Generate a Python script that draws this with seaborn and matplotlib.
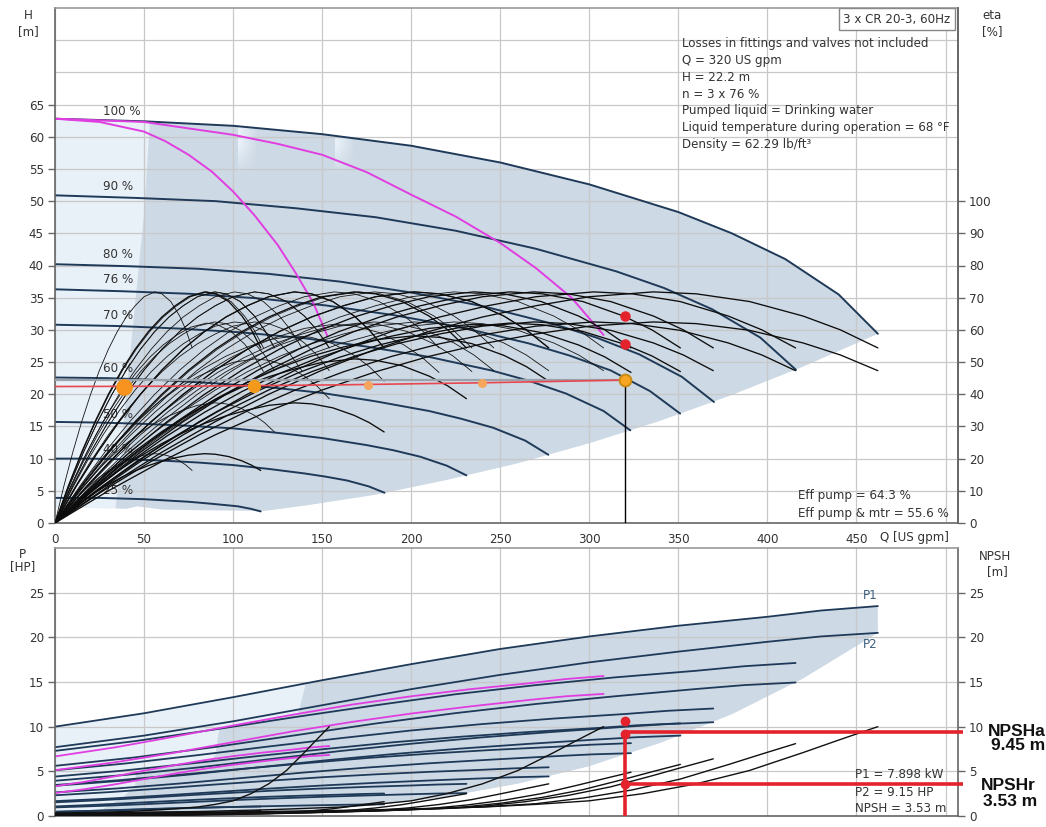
import numpy as np
import pandas as pd
import matplotlib
matplotlib.use("Agg")
import matplotlib.pyplot as plt
from matplotlib.patches import Polygon
from matplotlib.colors import to_rgb
import seaborn as sns

sns.set_theme(style="white")
plt.rcParams["font.family"] = ["DejaVu Sans"]

FIG_W, FIG_H = 1046, 827

# ---------------- pump data: 3 x CR 20-3, 60 Hz ----------------
speed_pct = [100, 90, 80, 76, 70, 60, 50, 40, 25]
speed_label_head = [63.9, 52.3, 41.7, 37.9, 32.2, 24.0, 16.9, 11.4, 5.0]
pump_counts = [1, 2, 3]
single_pump_speeds = [100, 90, 80, 76]

# QH curves, three pumps running, one row per speed
qh_flow = [
    [0, 50, 100, 150, 200, 250, 300, 350, 380, 410, 440, 462],
    [0, 45, 90, 135, 180, 225, 270, 315, 342, 369, 396, 416],
    [0, 40, 80, 120, 160, 200, 240, 280, 304, 328, 352, 370],
    [0, 38, 76, 114, 152, 190, 228, 266, 289, 312, 334, 351],
    [0, 35, 70, 105, 140, 175, 210, 245, 266, 287, 308, 323],
    [0, 30, 60, 90, 120, 150, 180, 210, 228, 246, 264, 277],
    [0, 25, 50, 75, 100, 125, 150, 175, 190, 205, 220, 231],
    [0, 20, 40, 60, 80, 100, 120, 140, 152, 164, 176, 185],
    [0, 12.5, 25, 37.5, 50, 62.5, 75, 87.5, 95, 102.5, 110, 115.5],
]
qh_head = [
    [62.8, 62.4, 61.7, 60.4, 58.6, 56.0, 52.6, 48.3, 45.0, 41.0, 35.5, 29.4],
    [50.9, 50.5, 50.0, 48.9, 47.5, 45.4, 42.6, 39.1, 36.5, 33.2, 28.8, 23.8],
    [40.2, 39.9, 39.5, 38.7, 37.5, 35.8, 33.7, 30.9, 28.8, 26.2, 22.7, 18.8],
    [36.3, 36.0, 35.6, 34.9, 33.8, 32.3, 30.4, 27.9, 26.0, 23.7, 20.5, 17.0],
    [30.8, 30.6, 30.2, 29.6, 28.7, 27.4, 25.8, 23.7, 22.1, 20.1, 17.4, 14.4],
    [22.6, 22.5, 22.2, 21.7, 21.1, 20.2, 18.9, 17.4, 16.2, 14.8, 12.8, 10.6],
    [15.7, 15.6, 15.4, 15.1, 14.7, 14.0, 13.2, 12.1, 11.3, 10.3, 8.9, 7.4],
    [10.0, 10.0, 9.9, 9.7, 9.4, 9.0, 8.4, 7.7, 7.2, 6.6, 5.7, 4.7],
    [3.9, 3.9, 3.9, 3.8, 3.7, 3.5, 3.3, 3.0, 2.8, 2.6, 2.2, 1.8],
]

# full-speed QH with one and with two pumps running
one_pump_q = [0, 25, 50, 62, 75, 88, 100, 112, 125, 135, 145, 153]
one_pump_h = [62.8, 62.3, 60.8, 59.3, 57.2, 54.6, 51.5, 47.8, 43.2, 38.9, 34.2, 29.0]
two_pump_q = [0, 50, 100, 125, 150, 175, 200, 225, 250, 270, 290, 308]
two_pump_h = [62.8, 62.3, 60.3, 58.9, 57.2, 54.5, 51.0, 47.6, 43.5, 39.6, 35.0, 29.2]

# operating range outline (QH chart)
minflow_h = [2.3, 10, 20, 34, 48, 70]
minflow_q = [34, 37, 40, 45, 50, 55]
end_locus_q = [462, 420, 380, 340, 300, 260, 220, 180, 140, 118]
end_locus_h = [29.4, 24.3, 19.9, 15.9, 12.4, 9.3, 6.7, 4.4, 2.7, 1.9]
floor_q = [80, 60, 46, 40, 20, 0]
floor_h = [2.0, 2.1, 2.6, 2.2, 2.3, 2.4]
wedge_q = [103, 157]
wedge_floor_h = 54

# efficiency of one pump at full speed (flow per pump) and drive/motor factor
eta_flow_per_pump = [0, 10, 20, 30, 40, 50, 60, 70, 80, 90, 100, 112, 120, 130, 140, 147, 154]
eta_per_pump = [0, 11.5, 22, 31.5, 40, 47.5, 54, 59.5, 64, 67.5, 70.3, 71.8, 71.2, 68.8,
                64.3, 60.0, 54.4]
motor_eff = [0.87, 0.87, 0.87, 0.865, 0.86, 0.81, 0.71, 0.52, 0.30]

# system curve and operating points
system_q = [0, 80, 160, 240, 320]
system_h = [21.2, 21.26, 21.46, 21.78, 22.2]
point_q = [38.5, 112, 176, 240]
point_h = [21.2, 21.3, 21.5, 21.8]
point_size = [11, 8.5, 5.5, 5.5]
point_color = ["#f7931e", "#f39a1c", "#f5a55c", "#f5a55c"]
duty_q, duty_h = 320, 22.2
eff_pump, eff_pump_mtr = 64.3, 55.6

# power (three pumps, full speed) and NPSH
pw_flow = [0, 50, 100, 150, 200, 250, 300, 350, 400, 430, 462]
p1_full = [10.0, 11.5, 13.3, 15.2, 17.0, 18.7, 20.1, 21.3, 22.3, 23.0, 23.5]
p2_full = [7.7, 9.0, 10.6, 12.4, 14.2, 15.8, 17.2, 18.4, 19.5, 20.1, 20.5]
one_p_q = [0, 16.7, 33.3, 50, 66.7, 83.3, 100, 116.7, 133.3, 143.3, 154]
one_p1 = [3.33, 3.83, 4.43, 5.07, 5.67, 6.23, 6.7, 7.1, 7.43, 7.67, 7.83]
one_p2 = [2.57, 3.0, 3.53, 4.13, 4.73, 5.27, 5.73, 6.13, 6.5, 6.7, 6.83]
two_p_q = [0, 33.3, 66.7, 100, 133.3, 166.7, 200, 233.3, 266.7, 286.7, 308]
two_p1 = [6.67, 7.67, 8.87, 10.13, 11.33, 12.47, 13.4, 14.2, 14.87, 15.33, 15.67]
two_p2 = [5.13, 6.0, 7.07, 8.27, 9.47, 10.53, 11.47, 12.27, 13.0, 13.4, 13.67]
p_edge_q_1 = [13, 26, 39, 45, 54]
p_edge_v_1 = [0.1, 0.65, 2.2, 3.4, 30]
p_edge_q_2 = [26, 52, 78, 90, 108]
p_edge_v_2 = [0.2, 1.3, 4.4, 6.8, 30]
p_edge_q_3 = [39, 78, 117, 135, 160]
p_edge_v_3 = [0.3, 2.0, 6.6, 10.2, 30]
p_locus_q = [462, 462, 420, 380, 340, 300, 260, 220, 180, 140, 115]
p_locus_v = [23.5, 20.5, 15.4, 11.4, 8.2, 5.6, 3.65, 2.2, 1.2, 0.57, 0.32]
p_floor_q = [0]
p_floor_v = [0.15]
npsh_flow = [0, 60, 120, 180, 240, 270, 300, 330, 360, 390, 420, 440, 462]
npsh_full = [0.3, 0.4, 0.5, 0.7, 1.0, 1.3, 1.7, 2.5, 3.6, 5.1, 7.1, 8.5, 10.0]
p1_duty_kw, p1_duty_hp, p2_duty_hp = 7.898, 10.59, 9.15
npsh_r, npsh_a = 3.53, 9.45

# ---------------- styling ----------------
NAVY = "#1f3a58"
MAGENTA = "#e03ee0"
RED = "#e3222b"
PALE = "#e8f0f8"
SHADE = "#cdd9e5"
GRID = "#c8c8c8"
SPINE = "#666666"
TXT = "#333333"
FS = 8.6


def fx(px):
    return px / FIG_W


def fy(py):
    return 1 - py / FIG_H


fig = plt.figure(figsize=(FIG_W / 100, FIG_H / 100), dpi=100, facecolor="white")
ax = fig.add_axes([fx(55), fy(523), (958 - 55) / FIG_W, (523 - 8) / FIG_H])
axb = fig.add_axes([fx(55), fy(816), (958 - 55) / FIG_W, (816 - 548) / FIG_H])
Q_MAX = 507


def under_curve(axis, q, v):
    return Polygon(list(zip(q, v)) + [(q[-1], 0), (0, 0)], closed=True,
                   transform=axis.transData)


def envelope(axis, top_q, top_v, loc_q, loc_v, fl_q, fl_v):
    env = np.column_stack([np.r_[top_q, loc_q, fl_q], np.r_[top_v, loc_v, fl_v]])
    axis.add_patch(Polygon(env, closed=True, fc=PALE, ec="none", zorder=0.3))


def shaded_region(axis, top_q, top_v, eq, ev, loc_q, loc_v, fl_q, fl_v, ceiling):
    lq = np.asarray(loc_q, float)
    lv = np.asarray(loc_v, float)
    order = np.argsort(lq, kind="stable")
    q_end = top_q[-1]
    v_end = np.interp(q_end, lq[order], lv[order])
    verts = list(zip(eq, ev)) + [(eq[-1], ceiling), (q_end, ceiling), (q_end, v_end)]
    verts += [(q, v) for q, v in zip(loc_q, loc_v) if q < q_end]
    verts += [(q, v) for q, v in zip(fl_q, fl_v) if q > eq[0]]
    region = Polygon(verts, closed=True, fc=SHADE, ec="none", zorder=0.4)
    axis.add_patch(region)
    region.set_clip_path(under_curve(axis, top_q, top_v))


# ---------------- QH / eta chart ----------------
ax.set_xlim(0, Q_MAX)
ax.set_ylim(0, 80)
envelope(ax, qh_flow[0], qh_head[0], end_locus_q, end_locus_h, floor_q, floor_h)
shaded_region(ax, qh_flow[0], qh_head[0], minflow_q, minflow_h, end_locus_q, end_locus_h,
              floor_q, floor_h, 75)

# soft light edges where the 2nd and 3rd pump ranges begin
gx, gy = np.meshgrid(np.linspace(0, 1, 60), np.linspace(0, 1, 60))
grad = np.zeros((60, 60, 4))
grad[..., :3] = to_rgb(PALE)
grad[..., 3] = np.clip(1.15 - gx * 1.15, 0, 1) * np.clip(gy * 2.2, 0, 1)
for q0 in wedge_q:
    im = ax.imshow(grad, extent=[q0, q0 + 11, wedge_floor_h, 64], origin="lower",
                   aspect="auto", interpolation="bilinear", zorder=0.45)
    im.set_clip_path(under_curve(ax, qh_flow[0], qh_head[0]))
ax.set_xlim(0, Q_MAX)
ax.set_ylim(0, 80)

qh_df = pd.concat(
    [pd.DataFrame({"Q": q, "H": h, "speed": f"{s} %"}) for q, h, s in zip(qh_flow, qh_head, speed_pct)],
    ignore_index=True)
sns.lineplot(data=qh_df, x="Q", y="H", hue="speed", palette=[NAVY] * len(speed_pct),
             estimator=None, sort=False, lw=1.4, legend=False, ax=ax, zorder=2)
ax.plot(one_pump_q, one_pump_h, color=MAGENTA, lw=1.4, zorder=2.5)
ax.plot(two_pump_q, two_pump_h, color=MAGENTA, lw=1.4, zorder=2.5)

for s, hl in zip(speed_pct, speed_label_head):
    ax.text(27, hl, f"{s} %", fontsize=FS, color=TXT, ha="left", va="center", zorder=5)

# efficiency curves on the eta scale
ax_eta = ax.twinx()
eta_rows = []
cid = 0
for n in pump_counts:
    for s, f in zip(speed_pct, motor_eff):
        if n == 1 and s not in single_pump_speeds:
            continue
        q = np.asarray(eta_flow_per_pump, float) * n * s / 100
        for fac in (1.0, f):
            eta_rows.append(pd.DataFrame({"Q": q, "eta": np.asarray(eta_per_pump) * fac,
                                          "curve": cid, "pumps": n}))
            cid += 1
eta_df = pd.concat(eta_rows, ignore_index=True)
sns.lineplot(data=eta_df[eta_df.pumps < 3], x="Q", y="eta", units="curve", estimator=None,
             sort=False, color="#141414", lw=0.6, legend=False, ax=ax_eta)
sns.lineplot(data=eta_df[eta_df.pumps == 3], x="Q", y="eta", units="curve", estimator=None,
             sort=False, color="#0d0d0d", lw=0.95, legend=False, ax=ax_eta)
ax_eta.plot([duty_q, duty_q], [eff_pump, eff_pump_mtr], "o", color=RED, ms=6.5, zorder=6)
ax_eta.set_xlim(0, Q_MAX)
ax_eta.set_ylim(0, 160)
ax_eta.set_yticks(range(0, 101, 10))
ax_eta.set_xlabel("")
ax_eta.set_ylabel("")
ax_eta.grid(False)
for side in ("top", "left", "bottom"):
    ax_eta.spines[side].set_visible(False)
ax_eta.spines["right"].set_color(SPINE)
ax_eta.spines["right"].set_linewidth(1.2)
ax_eta.tick_params(axis="y", direction="out", length=5, width=1, color=SPINE,
                   labelcolor=TXT, labelsize=FS, pad=3)

# system curve and operating points, on top
ax_top = ax.twinx()
ax_top.set_xlim(0, Q_MAX)
ax_top.set_ylim(0, 80)
ax_top.axis("off")
ax_top.plot([0, duty_q], [duty_h, duty_h], color="#9aa3ab", lw=1.6, zorder=3)
ax_top.plot(system_q, system_h, color="#e8474f", lw=1.2, zorder=4)
ax_top.plot([duty_q, duty_q], [0, duty_h], color="black", lw=1.0, zorder=4)
for q, h, ms, c in zip(point_q, point_h, point_size, point_color):
    ax_top.plot(q, h, "o", ms=ms, color=c, mec=c, zorder=5)
ax_top.plot(duty_q, duty_h, "o", ms=8.5, color="#f6a623", mec="#c98b14", mew=1.4, zorder=6)

ax.set_xticks(range(0, 501, 50))
ax.set_xticklabels([str(v) for v in range(0, 451, 50)] + [""])
ax.set_yticks(range(0, 66, 5))
ax.set_yticks([70, 75], minor=True)
ax.set_xlabel("")
ax.set_ylabel("")
ax.set_axisbelow("line")
ax.grid(True, which="both", color=GRID, lw=0.9)
ax.tick_params(axis="x", length=0, labelsize=FS, labelcolor=TXT, pad=7)
ax.tick_params(axis="y", which="major", direction="out", length=5, width=1, color=SPINE,
               labelcolor=TXT, labelsize=FS, pad=3)
ax.tick_params(axis="y", which="minor", length=0)
for side in ax.spines:
    ax.spines[side].set_color(SPINE)
    ax.spines[side].set_linewidth(1.2)
ax.spines["top"].set_color("#999999")

# ---------------- power / NPSH chart ----------------
axb.set_xlim(0, Q_MAX)
axb.set_ylim(0, 30)
envelope(axb, pw_flow, p1_full, p_locus_q, p_locus_v, p_floor_q, p_floor_v)
for (tq, tv), (eq, ev) in zip([(one_p_q, one_p1), (two_p_q, two_p1), (pw_flow, p1_full)],
                              [(p_edge_q_1, p_edge_v_1), (p_edge_q_2, p_edge_v_2),
                               (p_edge_q_3, p_edge_v_3)]):
    shaded_region(axb, tq, tv, eq, ev, p_locus_q, p_locus_v, p_floor_q, p_floor_v, 30)

pw_rows = []
cid = 0
for s, f in zip(speed_pct, motor_eff):
    r = s / 100
    q = np.asarray(pw_flow, float) * r
    pw_rows.append(pd.DataFrame({"Q": q, "P": np.asarray(p1_full) * r ** 3 * motor_eff[0] / f,
                                 "curve": cid}))
    pw_rows.append(pd.DataFrame({"Q": q, "P": np.asarray(p2_full) * r ** 3, "curve": cid + 1}))
    cid += 2
pw_df = pd.concat(pw_rows, ignore_index=True)
sns.lineplot(data=pw_df, x="Q", y="P", units="curve", estimator=None, sort=False,
             color=NAVY, lw=1.3, legend=False, ax=axb, zorder=2)
for q, p in ((one_p_q, one_p1), (one_p_q, one_p2), (two_p_q, two_p1), (two_p_q, two_p2)):
    axb.plot(q, p, color=MAGENTA, lw=1.3, zorder=2.5)

npsh_rows = []
cid = 0
for s in speed_pct:
    r = s / 100
    npsh_rows.append(pd.DataFrame({"Q": np.asarray(npsh_flow, float) * r,
                                   "NPSH": np.asarray(npsh_full) * r ** 2, "curve": cid}))
    cid += 1
for n in (1, 2):
    npsh_rows.append(pd.DataFrame({"Q": np.asarray(npsh_flow, float) * n / 3,
                                   "NPSH": npsh_full, "curve": cid}))
    cid += 1
npsh_df = pd.concat(npsh_rows, ignore_index=True)
sns.lineplot(data=npsh_df, x="Q", y="NPSH", units="curve", estimator=None, sort=False,
             color="#111111", lw=1.0, legend=False, ax=axb, zorder=3)

axb.text(pw_flow[-1] - 4, p1_full[-1] + 1.2, "P1", fontsize=FS, color="#3d5f80",
         ha="center", va="center")
axb.text(pw_flow[-1] - 4, p2_full[-1] - 1.3, "P2", fontsize=FS, color="#3d5f80",
         ha="center", va="center")

# NPSH available / required markup
axb.plot([duty_q, duty_q], [0, npsh_a], color=RED, lw=2.6, solid_capstyle="butt", zorder=7)
axb.plot([duty_q, 510], [npsh_a, npsh_a], color=RED, lw=2.6, clip_on=False,
         solid_capstyle="butt", zorder=7)
axb.plot([duty_q, 510], [npsh_r, npsh_r], color=RED, lw=2.6, clip_on=False,
         solid_capstyle="butt", zorder=7)
axb.plot([duty_q] * 3, [p1_duty_hp, p2_duty_hp, npsh_r], "o", color=RED, ms=6, zorder=8)

axb.set_xticks(range(0, 501, 50))
axb.set_yticks(range(0, 26, 5))
axb.set_xlabel("")
axb.set_ylabel("")
axb.set_axisbelow("line")
axb.grid(True, color=GRID, lw=0.9)
axb.tick_params(axis="x", length=0, labelbottom=False)
axb.tick_params(axis="y", direction="out", length=5, width=1, color=SPINE, labelcolor=TXT,
                labelsize=FS, pad=3, right=True, labelright=True, left=True, labelleft=True)
for side in axb.spines:
    axb.spines[side].set_color(SPINE)
    axb.spines[side].set_linewidth(1.2)
axb.spines["top"].set_color("#999999")

# ---------------- text ----------------
fig.text(fx(28), fy(15.5), "H", fontsize=FS, color=TXT, ha="center", va="center")
fig.text(fx(28), fy(32), "[m]", fontsize=FS, color=TXT, ha="center", va="center")
fig.text(fx(992), fy(15.5), "eta", fontsize=FS, color=TXT, ha="center", va="center")
fig.text(fx(992), fy(32), "[%]", fontsize=FS, color=TXT, ha="center", va="center")
fig.text(fx(22), fy(554), "P", fontsize=FS, color=TXT, ha="center", va="center")
fig.text(fx(23), fy(567), "[HP]", fontsize=FS, color=TXT, ha="center", va="center")
fig.text(fx(995), fy(556), "NPSH", fontsize=FS, color=TXT, ha="center", va="center")
fig.text(fx(997), fy(572), "[m]", fontsize=FS, color=TXT, ha="center", va="center")
fig.text(fx(880), fy(538), "Q [US gpm]", fontsize=FS, color=TXT, ha="left", va="center")

fig.text(fx(897), fy(19), "3 x CR 20-3, 60Hz", fontsize=FS, color=TXT, ha="center",
         va="center", bbox=dict(boxstyle="square,pad=0.35", fc="white", ec="#888888", lw=1))

info = [
    "Losses in fittings and valves not included",
    f"Q = {duty_q} US gpm",
    f"H = {duty_h} m",
    "n = 3 x 76 %",
    "Pumped liquid = Drinking water",
    "Liquid temperature during operation = 68 °F",
    "Density = 62.29 lb/ft³",
]
for i, line in enumerate(info):
    fig.text(fx(682), fy(44 + i * 16.7), line, fontsize=FS, color=TXT, ha="left", va="center")

fig.text(fx(798), fy(496), f"Eff pump = {eff_pump} %", fontsize=FS, color=TXT,
         ha="left", va="center")
fig.text(fx(798), fy(513), f"Eff pump & mtr = {eff_pump_mtr} %", fontsize=FS, color=TXT,
         ha="left", va="center")

fig.text(fx(855), fy(775), f"P1 = {p1_duty_kw} kW", fontsize=FS, color=TXT, ha="left", va="center")
fig.text(fx(855), fy(792), f"P2 = {p2_duty_hp} HP", fontsize=FS, color=TXT, ha="left", va="center")
fig.text(fx(855), fy(809), f"NPSH = {npsh_r} m", fontsize=FS, color=TXT, ha="left", va="center")

BOLD = dict(fontsize=12.5, fontweight="bold", color="#111111", ha="center", va="center",
            family=["Liberation Sans Narrow", "Liberation Sans", "DejaVu Sans"])
fig.text(fx(1017), fy(731), "NPSHa", **BOLD)
fig.text(fx(1018), fy(746), f"{npsh_a} m", **BOLD)
fig.text(fx(1008), fy(785), "NPSHr", **BOLD)
fig.text(fx(1010), fy(802), f"{npsh_r} m", **BOLD)

fig.savefig("out.png", dpi=100, facecolor="white")
